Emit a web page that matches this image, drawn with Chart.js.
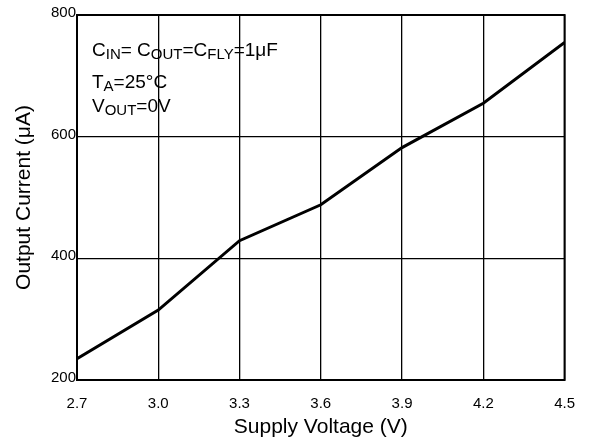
<!DOCTYPE html>
<html>
<head>
<meta charset="utf-8">
<script src="https://cdn.jsdelivr.net/npm/chart.js@4.4.1/dist/chart.umd.min.js"></script>
<style>
    html, body { margin: 0; padding: 0; background: #fff; }
    #wrap { width: 590px; height: 442px; }
</style>
</head>
<body>
<div id="wrap"><canvas id="myChart" width="590" height="442"></canvas></div>
<script>
// Gegevens
const voltage = [2.7, 3.0, 3.3, 3.6, 3.9, 4.2, 4.5];
const current = [235, 315, 429, 488, 582, 655, 755];
const xTicks = [2.7, 3.0, 3.3, 3.6, 3.9, 4.2, 4.5];
const yTicks = [200, 400, 600, 800];

const FONT = "'Liberation Sans', Arial, sans-serif";

// Tekstregels met subscript: [hoofdtekst, subscript] paren
const noteLines = [
    [["C", "IN"], ["= C", "OUT"], ["=C", "FLY"], ["=1\u03bcF", ""]],
    [["T", "A"], ["=25\u00b0C", ""]],
    [["V", "OUT"], ["=0V", ""]]
];

// Kader rond het plotgebied en de tekst met condities
const framePlugin = {
    id: 'frame',
    afterDatasetsDraw(chart) {
        const { ctx, chartArea: a } = chart;
        ctx.save();
        ctx.strokeStyle = '#000';
        ctx.lineWidth = 2;
        ctx.strokeRect(a.left, a.top, a.right - a.left, a.bottom - a.top);

        ctx.fillStyle = '#000';
        ctx.textBaseline = 'alphabetic';
        const baselines = [56, 88, 112];
        noteLines.forEach((line, i) => {
            let x = 92;
            line.forEach(([main, sub]) => {
                ctx.font = '19px ' + FONT;
                ctx.fillText(main, x, baselines[i]);
                x += ctx.measureText(main).width;
                if (sub) {
                    ctx.font = '15px ' + FONT;
                    ctx.fillText(sub, x, baselines[i] + 3);
                    x += ctx.measureText(sub).width;
                }
            });
        });
        ctx.restore();
    }
};

const chartData = {
    datasets: [{
        data: voltage.map((v, i) => ({ x: v, y: current[i] })),
        borderColor: '#000',
        borderWidth: 3,
        pointRadius: 0,
        tension: 0,
        fill: false
    }]
};

const chartOptions = {
    responsive: false,
    animation: false,
    layout: { padding: { left: 0, top: 15, right: 17, bottom: 0 } },
    plugins: {
        legend: { display: false },
        tooltip: { enabled: false }
    },
    scales: {
        x: {
            type: 'linear',
            min: 2.7,
            max: 4.5,
            afterBuildTicks: scale => { scale.ticks = xTicks.map(v => ({ value: v })); },
            afterFit: scale => { scale.height = 62; },
            grid: { color: '#000', lineWidth: 1.3, drawTicks: false },
            border: { display: false },
            ticks: {
                padding: 15,
                color: '#000',
                font: { family: FONT, size: 15 },
                maxRotation: 0,
                callback: v => v.toFixed(1)
            },
            title: {
                display: true,
                text: 'Supply Voltage (V)',
                color: '#000',
                font: { family: FONT, size: 21 },
                padding: { top: 0, bottom: 2 }
            }
        },
        y: {
            min: 200,
            max: 800,
            afterBuildTicks: scale => { scale.ticks = yTicks.map(v => ({ value: v })); },
            afterFit: scale => { scale.width = 77; },
            grid: { color: '#000', lineWidth: 1.3, drawTicks: false },
            border: { display: false },
            ticks: {
                padding: 1,
                labelOffset: -2,
                color: '#000',
                font: { family: FONT, size: 15 }
            },
            title: {
                display: true,
                text: 'Output Current (\u03bcA)',
                color: '#000',
                font: { family: FONT, size: 21 },
                padding: { top: 12, bottom: 0 }
            }
        }
    }
};

new Chart(document.getElementById('myChart'), {
    type: 'line',
    data: chartData,
    options: chartOptions,
    plugins: [framePlugin]
});
</script>
</body>
</html>
